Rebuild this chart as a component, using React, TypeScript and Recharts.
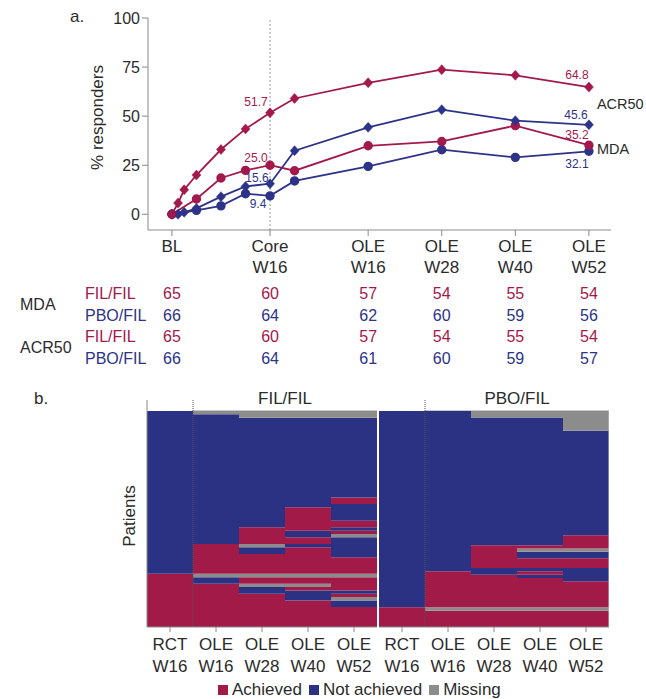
import React from 'react';
import {
  LineChart, Line, XAxis, YAxis, ReferenceLine, ReferenceDot, ReferenceArea,
  BarChart, Bar, Cell, LabelList,
} from 'recharts';

const FONT = '"Liberation Sans", Arial, Helvetica, sans-serif';
const RED = '#A3194B';
const BLUE = '#2C3388';
const TEXT = '#2b2b2b';
const AXIS = '#8a8a8a';
const HEAT_RED = '#A21A48';
const HEAT_BLUE = '#2C3283';
const HEAT_GREY = '#8C8C8C';

// ---------- Panel a data ----------
const acrWeeks = [0, 1, 2, 4, 8, 12, 16, 20, 32, 44, 56, 68];
const acrFilFil = [0, 5.7, 12.5, 20, 33, 43.5, 51.7, 59, 67, 73.7, 70.8, 64.8];
const acrPboFil = [0, 0, 1, 3, 9, 14.2, 15.6, 32.4, 44.3, 53.3, 47.7, 45.6];
const mdaWeeks = [0, 4, 8, 12, 16, 20, 32, 44, 56, 68];
const mdaFilFil = [0, 7.8, 18.5, 22.4, 25.0, 22.2, 34.9, 37.1, 45.2, 35.2];
const mdaPboFil = [0, 2, 4.3, 10.5, 9.4, 17, 24.4, 32.9, 29, 32.1];

const timeTicks = [0, 16, 32, 44, 56, 68];
const timeLabels = [['BL'], ['Core', 'W16'], ['OLE', 'W16'], ['OLE', 'W28'], ['OLE', 'W40'], ['OLE', 'W52']];
const yTicks = [0, 25, 50, 75, 100];

const nMdaFilFil = [65, 60, 57, 54, 55, 54];
const nMdaPboFil = [66, 64, 62, 60, 59, 56];
const nAcrFilFil = [65, 60, 57, 54, 55, 54];
const nAcrPboFil = [66, 64, 61, 60, 59, 57];

// ---------- Panel b data (segments listed top -> bottom: A achieved, N not achieved, M missing) ----------
type Seg = [string, number];
const filRctW16: Seg[] = [['N', 49], ['A', 16]];
const filOleW16: Seg[] = [['M', 1], ['N', 39], ['A', 9], ['M', 1], ['N', 2], ['A', 13]];
const filOleW28: Seg[] = [['M', 2], ['N', 33], ['A', 5], ['M', 1], ['N', 2], ['A', 6], ['M', 1], ['A', 2], ['M', 1], ['N', 2], ['A', 10]];
const filOleW40: Seg[] = [['M', 2], ['N', 27], ['A', 7], ['N', 2], ['A', 2], ['N', 1], ['A', 8], ['M', 1], ['A', 2], ['M', 1], ['A', 1], ['N', 3], ['A', 8]];
const filOleW52: Seg[] = [['M', 2], ['N', 24], ['A', 2], ['N', 5], ['A', 2], ['N', 1], ['A', 1], ['M', 1], ['N', 6], ['A', 5], ['M', 1], ['A', 4], ['N', 1], ['A', 1], ['M', 1], ['N', 2], ['A', 6]];

const pboRctW16: Seg[] = [['N', 60], ['A', 6]];
const pboOleW16: Seg[] = [['N', 49], ['A', 11], ['M', 1], ['A', 5]];
const pboOleW28: Seg[] = [['M', 2], ['N', 39], ['A', 7], ['N', 2], ['A', 10], ['M', 1], ['A', 5]];
const pboOleW40: Seg[] = [['M', 2], ['N', 39], ['A', 1], ['M', 1], ['N', 2], ['A', 3], ['N', 1], ['A', 1], ['N', 1], ['A', 9], ['M', 1], ['A', 5]];
const pboOleW52: Seg[] = [['M', 6], ['N', 32], ['A', 4], ['M', 1], ['N', 2], ['A', 3], ['N', 4], ['A', 8], ['M', 1], ['A', 5]];

const heatLabels = [['RCT', 'W16'], ['OLE', 'W16'], ['OLE', 'W28'], ['OLE', 'W40'], ['OLE', 'W52']];
const filTotal = 65;
const pboTotal = 66;

const filColumns = [filRctW16, filOleW16, filOleW28, filOleW40, filOleW52];
const pboColumns = [pboRctW16, pboOleW16, pboOleW28, pboOleW40, pboOleW52];

const heatColors: Record<string, string> = { A: HEAT_RED, N: HEAT_BLUE, M: HEAT_GREY };
const MAX_SEGS = Math.max(...[...filColumns, ...pboColumns].map((c) => c.length));

function buildHeatRows(columns: Seg[][]) {
  return columns.map((col, i) => {
    const row: any = { name: String(i) };
    const bottomUp = [...col].reverse();
    for (let k = 0; k < MAX_SEGS; k++) {
      row[`s${k}`] = bottomUp[k] ? bottomUp[k][1] : 0;
      row[`t${k}`] = bottomUp[k] ? bottomUp[k][0] : 'M';
    }
    return row;
  });
}

const toSeries = (weeks: number[], vals: number[]) => weeks.map((w, i) => ({ week: w, v: vals[i] }));

// label specs: [index, dx, dy] offsets of the text centre from the point
const acrFilLabels = [[6, -14, -11], [11, -12, -12.5]];
const acrPboLabels = [[6, -13, -6], [11, -13, -10]];
const mdaFilLabels = [[4, -14, -8], [9, -12, -10.5]];
const mdaPboLabels = [[4, -12, 8], [9, -12, 12.5]];

const makeValueLabel = (color: string, specs: number[][]) => (p: any) => {
  const spec = specs.find((s) => s[0] === p.index);
  if (!spec || p.x == null) return null;
  return (
    <text key={`l${p.index}`} x={p.x + spec[1]} y={p.y + spec[2] + 4.3} textAnchor="middle" fontSize={12} fill={color}>
      {Number(p.value).toFixed(1)}
    </text>
  );
};

const makeDiamond = (color: string) => (p: any) => {
  const { cx, cy, index } = p;
  if (cx == null || cy == null) return <g key={`dd${index}`} />;
  return (
    <path key={`d${index}`} d={`M${cx},${cy - 5}L${cx + 4.5},${cy}L${cx},${cy + 5}L${cx - 4.5},${cy}Z`} fill={color} stroke={color} strokeWidth={0.5} />
  );
};

const tableRows = [
  { values: nMdaFilFil, color: RED },
  { values: nMdaPboFil, color: BLUE },
  { values: nAcrFilFil, color: RED },
  { values: nAcrPboFil, color: BLUE },
];
const rowNames = [
  { text: 'FIL/FIL', color: RED },
  { text: 'PBO/FIL', color: BLUE },
  { text: 'FIL/FIL', color: RED },
  { text: 'PBO/FIL', color: BLUE },
];

const TopTick = (props: any) => {
  const { x, y, payload } = props;
  const i = timeTicks.indexOf(payload.value);
  if (i < 0) return null;
  return (
    <g>
      {timeLabels[i].map((l, k) => (
        <text key={`t${k}`} x={x} y={y + 14 + k * 21} textAnchor="middle" fontSize={17} fill={TEXT}>{l}</text>
      ))}
      {tableRows.map((r, k) => (
        <text key={`n${k}`} x={x} y={y + 61 + k * 21.5} textAnchor="middle" fontSize={16} fill={r.color}>{r.values[i]}</text>
      ))}
      {i === 0 && (
        <g>
          {rowNames.map((r, k) => (
            <text key={`rn${k}`} x={85} y={y + 61 + k * 21.5} textAnchor="start" fontSize={16} fill={r.color}>{r.text}</text>
          ))}
          <text x={20} y={y + 71.5} textAnchor="start" fontSize={16} fill={TEXT}>MDA</text>
          <text x={20} y={y + 114.5} textAnchor="start" fontSize={16} fill={TEXT}>ACR50</text>
        </g>
      )}
    </g>
  );
};

const HeatTick = (props: any) => {
  const { x, y, payload } = props;
  const i = Number(payload.value);
  const l = heatLabels[i];
  if (!l) return null;
  return (
    <g>
      {l.map((s, k) => (
        <text key={k} x={x} y={y + 16 + k * 22} textAnchor="middle" fontSize={17} fill={TEXT}>{s}</text>
      ))}
    </g>
  );
};

const SideLabel = (text: string) => (p: any) => {
  const vb = p.viewBox || {};
  return (
    <text x={vb.x + 8} y={vb.y + 5} textAnchor="start" fontSize={14.5} fill={TEXT}>{text}</text>
  );
};

function Heatmap({ columns, total, group, showY, width }: { columns: Seg[][]; total: number; group: string; showY: boolean; width: number }) {
  const data = buildHeatRows(columns);
  const top = total * (1 + 11 / 216);
  const px = total / 216;
  const first = data[0].name;
  const ole = data[1].name;
  const last = data[data.length - 1].name;
  return (
    <BarChart width={width} height={297} data={data} margin={{ top: 31, right: 0, left: 0, bottom: 0 }} barCategoryGap={0} barGap={0}>
      <XAxis
        type="category"
        dataKey="name"
        interval={0}
        tick={<HeatTick />}
        height={50}
        axisLine={{ stroke: AXIS }}
        tickLine={{ stroke: AXIS }}
        tickSize={5}
      />
      <YAxis
        type="number"
        domain={[0, total]}
        hide={!showY}
        width={showY ? 47 : 0}
        tick={false}
        axisLine={false}
        tickLine={false}
        label={showY ? (p: any) => {
          const vb = p.viewBox || {};
          const cx = vb.x + vb.width / 2 + 5.5;
          const cy = vb.y + vb.height / 2 - 3;
          return (
            <text transform={`translate(${cx},${cy}) rotate(-90)`} textAnchor="middle" dominantBaseline="central" fontSize={17} fill={TEXT}>Patients</text>
          );
        } : undefined}
      />
      {Array.from({ length: MAX_SEGS }).map((_, k) => (
        <Bar key={k} dataKey={`s${k}`} stackId="p" isAnimationActive={false}>
          {data.map((d: any, i: number) => (
            <Cell key={i} fill={heatColors[d[`t${k}`]]} />
          ))}
        </Bar>
      ))}
      <ReferenceArea
        x1={ole}
        x2={last}
        y1={total}
        y2={total + px}
        ifOverflow="visible"
        fill="#c8c8c8"
        fillOpacity={1}
        stroke="none"
        label={{ value: group, position: 'top', offset: 6, fontSize: 17, fill: TEXT }}
      />
      {showY && (
        <ReferenceLine segment={[{ x: first, y: 0 }, { x: first, y: top }]} position="start" ifOverflow="visible" stroke={AXIS} strokeWidth={1} />
      )}
      <ReferenceLine segment={[{ x: ole, y: 0 }, { x: ole, y: top }]} position="start" ifOverflow="visible" stroke="#555" strokeWidth={1} strokeDasharray="1 1" />
      {!showY && (
        <ReferenceLine segment={[{ x: last, y: 0 }, { x: last, y: total }]} position="end" ifOverflow="visible" stroke="#c8c8c8" strokeWidth={1} />
      )}
    </BarChart>
  );
}

export default function App() {
  return (
    <div style={{ position: 'absolute', left: 0, top: 0, width: 646, height: 699, background: '#fff', fontFamily: FONT, overflow: 'hidden' }}>
      <div style={{ position: 'absolute', left: 70, top: 7, fontSize: 17, color: TEXT }}>a.</div>
      <div style={{ position: 'absolute', left: 34, top: 389, fontSize: 17, color: TEXT }}>b.</div>

      <div style={{ position: 'absolute', left: 0, top: 0 }}>
        <LineChart width={646} height={370} margin={{ top: 18, right: 35, left: 0, bottom: 0 }}>
          <XAxis
            type="number"
            dataKey="week"
            domain={[-3.9, 71.6]}
            ticks={timeTicks}
            interval={0}
            allowDataOverflow
            tick={<TopTick />}
            height={140}
            axisLine={{ stroke: AXIS }}
            tickLine={{ stroke: AXIS }}
            tickSize={6}
          />
          <YAxis
            type="number"
            domain={[-8, 100]}
            ticks={yTicks}
            interval={0}
            allowDataOverflow
            width={148}
            tick={{ fontSize: 16, fill: TEXT }}
            axisLine={{ stroke: AXIS }}
            tickLine={{ stroke: AXIS }}
            tickSize={6}
            label={(p: any) => {
              const vb = p.viewBox || {};
              const cx = vb.x + vb.width / 2 + 23;
              const cy = vb.y + vb.height / 2 - 6.5;
              return (
                <text transform={`translate(${cx},${cy}) rotate(-90)`} textAnchor="middle" dominantBaseline="central" fontSize={17} fill={TEXT}>% responders</text>
              );
            }}
          />
          <ReferenceLine x={16} stroke="#999" strokeDasharray="2 2" strokeWidth={1} />
          <Line data={toSeries(mdaWeeks, mdaPboFil)} dataKey="v" stroke={BLUE} strokeWidth={1.8} dot={{ r: 3.8, fill: BLUE, stroke: BLUE }} isAnimationActive={false}>
            <LabelList dataKey="v" content={makeValueLabel(BLUE, mdaPboLabels)} />
          </Line>
          <Line data={toSeries(mdaWeeks, mdaFilFil)} dataKey="v" stroke={RED} strokeWidth={1.8} dot={{ r: 3.8, fill: RED, stroke: RED }} isAnimationActive={false}>
            <LabelList dataKey="v" content={makeValueLabel(RED, mdaFilLabels)} />
          </Line>
          <Line data={toSeries(acrWeeks, acrPboFil)} dataKey="v" stroke={BLUE} strokeWidth={1.8} dot={makeDiamond(BLUE)} isAnimationActive={false}>
            <LabelList dataKey="v" content={makeValueLabel(BLUE, acrPboLabels)} />
          </Line>
          <Line data={toSeries(acrWeeks, acrFilFil)} dataKey="v" stroke={RED} strokeWidth={1.8} dot={makeDiamond(RED)} isAnimationActive={false}>
            <LabelList dataKey="v" content={makeValueLabel(RED, acrFilLabels)} />
          </Line>
          <ReferenceDot x={68} y={56.4} r={0} fill="none" stroke="none" label={SideLabel('ACR50')} />
          <ReferenceDot x={68} y={33.4} r={0} fill="none" stroke="none" label={SideLabel('MDA')} />
        </LineChart>
      </div>

      <div style={{ position: 'absolute', left: 100, top: 380 }}>
        <Heatmap columns={filColumns} total={filTotal} group="FIL/FIL" showY={true} width={277} />
      </div>
      <div style={{ position: 'absolute', left: 379, top: 380 }}>
        <Heatmap columns={pboColumns} total={pboTotal} group="PBO/FIL" showY={false} width={230} />
      </div>

      <div style={{ position: 'absolute', left: 218, top: 680, display: 'flex', alignItems: 'center', fontSize: 17, color: TEXT, whiteSpace: 'nowrap', lineHeight: '20px' }}>
        {[['Achieved', HEAT_RED], ['Not achieved', HEAT_BLUE], ['Missing', HEAT_GREY]].map(([t, c]) => (
          <div key={t} style={{ display: 'flex', alignItems: 'center', marginRight: 7 }}>
            <span style={{ display: 'inline-block', width: 10, height: 10, background: c, marginRight: 4 }} />
            <span>{t}</span>
          </div>
        ))}
      </div>
    </div>
  );
}
